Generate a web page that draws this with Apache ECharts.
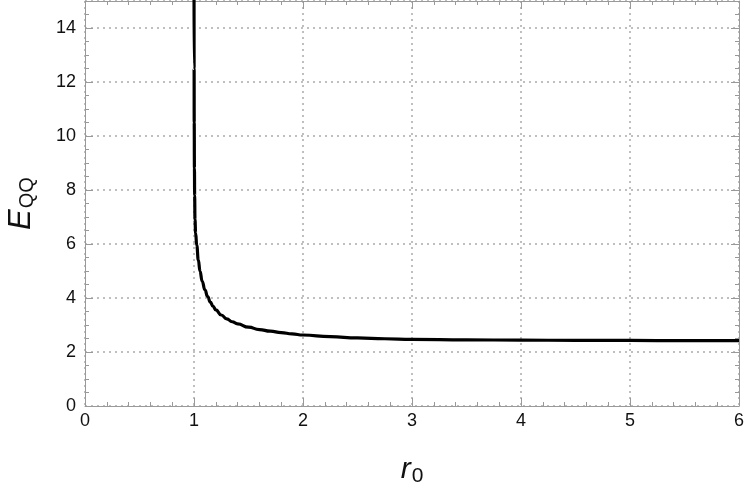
<!DOCTYPE html>
<html>
<head>
<meta charset="utf-8">
<script src="https://cdn.jsdelivr.net/npm/echarts@6/dist/echarts.min.js"></script>
<style>
html,body{margin:0;padding:0;background:#fff;}
#c{width:747px;height:489px;}
</style>
</head>
<body>
<div id="c"></div>
<script>
// r0 values and E_QQ values
const rVals = [1.0003, 1.001, 1.002, 1.004, 1.006, 1.009, 1.015, 1.025, 1.04, 1.055, 1.075, 1.1, 1.125, 1.15, 1.175, 1.2, 1.25, 1.3, 1.35, 1.4, 1.5, 1.6, 1.7, 1.8, 1.9, 2.0, 2.25, 2.5, 2.75, 3.0, 3.5, 4.0, 4.5, 5.0, 5.5, 6.0];
const eVals = [15.5, 12.5, 10.5, 8.8, 7.8, 6.9, 6.4, 5.95, 5.4, 5.0, 4.62, 4.3, 4.05, 3.85, 3.69, 3.56, 3.37, 3.23, 3.12, 3.04, 2.92, 2.83, 2.77, 2.72, 2.67, 2.63, 2.57, 2.52, 2.49, 2.47, 2.45, 2.44, 2.43, 2.43, 2.42, 2.42];
const xTicks = {min: 0, max: 6, interval: 1};
const yTicks = {min: 0, max: 15, interval: 2};

const data = rVals.map((r, i) => [r, eVals[i]]);
const axisColor = '#999';
const font = 'Liberation Sans, Arial, sans-serif';

function xAx(pos, show) {
  return {
    type: 'value', position: pos, min: xTicks.min, max: xTicks.max, interval: xTicks.interval,
    axisLine: {show: true, onZero: false, lineStyle: {color: axisColor, width: 1}},
    axisTick: {show: true, inside: true, length: 8, lineStyle: {color: axisColor}},
    minorTick: {show: true, splitNumber: 5, length: 4, lineStyle: {color: axisColor}},
    axisLabel: {show: show, color: '#111', fontSize: 18, fontFamily: font, margin: 6},
    splitLine: {show: show, lineStyle: {color: '#aaa', type: [2, 4], width: 1.5}},
    minorSplitLine: {show: false}
  };
}
function yAx(pos, show) {
  return {
    type: 'value', position: pos, min: yTicks.min, max: yTicks.max, interval: yTicks.interval,
    axisLine: {show: true, onZero: false, lineStyle: {color: axisColor, width: 1}},
    axisTick: {show: true, inside: true, length: 8, lineStyle: {color: axisColor}},
    minorTick: {show: true, splitNumber: 4, length: 4, lineStyle: {color: axisColor}},
    axisLabel: {show: show, color: '#111', fontSize: 18, fontFamily: font, margin: 9, showMaxLabel: false},
    splitLine: {show: show, lineStyle: {color: '#aaa', type: [2, 4], width: 1.5}},
    minorSplitLine: {show: false}
  };
}

const xb = xAx('bottom', true);
xb.name = '{a|r}{b|0}';
xb.nameLocation = 'middle';
xb.nameGap = 46;
xb.nameTextStyle = {
  rich: {
    a: {fontSize: 30, fontStyle: 'italic', fontFamily: font, color: '#111'},
    b: {fontSize: 21, fontFamily: font, color: '#111', padding: [14, 0, 0, 1]}
  }
};
const yl = yAx('left', true);
yl.name = '{a|E}{b|QQ}';
yl.nameLocation = 'middle';
yl.nameRotate = 90;
yl.nameGap = 48;
yl.nameTextStyle = {
  rich: {
    a: {fontSize: 31, fontStyle: 'italic', fontFamily: font, color: '#111'},
    b: {fontSize: 20, fontFamily: font, color: '#111', padding: [12, 0, 0, 1]}
  }
};

const chart = echarts.init(document.getElementById('c'), null, {renderer: 'canvas'});
chart.setOption({
  animation: false,
  backgroundColor: '#fff',
  grid: {left: 85, right: 8, top: 1, bottom: 83, containLabel: false, outerBoundsMode: 'none'},
  xAxis: [xb, xAx('top', false)],
  yAxis: [yl, yAx('right', false)],
  series: [{
    type: 'line', xAxisIndex: 0, yAxisIndex: 0, data: data,
    showSymbol: false, smooth: 0.5, smoothMonotone: 'x', clip: true,
    lineStyle: {color: '#000', width: 3.2}
  }]
});
</script>
</body>
</html>
